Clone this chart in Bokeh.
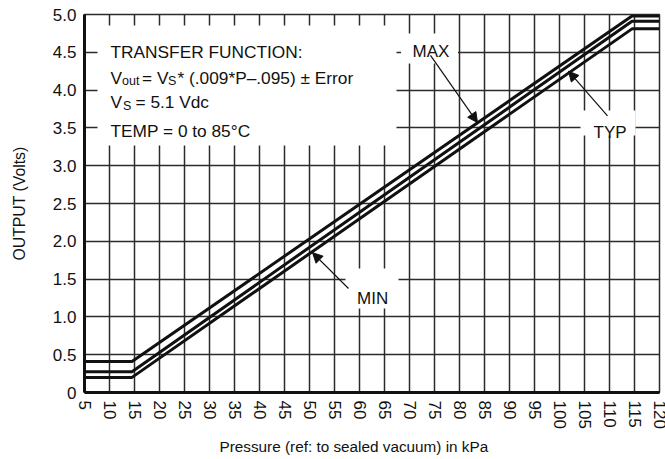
from bokeh.plotting import figure
from bokeh.models import Range1d, FixedTicker, Label, Arrow, NormalHead, Title
from bokeh.embed import file_html
from bokeh.resources import INLINE

# ---- data ----
pressure_ticks = [5, 10, 15, 20, 25, 30, 35, 40, 45, 50, 55, 60, 65, 70, 75, 80,
                  85, 90, 95, 100, 105, 110, 115, 120]
pressure_labels = ["5", "10", "15", "20", "25", "30", "35", "40", "45", "50", "55", "60",
                   "65", "70", "75", "80", "85", "90", "95", "100", "105", "110", "115", "120"]
volt_ticks = [0.0, 0.5, 1.0, 1.5, 2.0, 2.5, 3.0, 3.5, 4.0, 4.5, 5.0]
volt_labels = ["0", "0.5", "1.0", "1.5", "2.0", "2.5", "3.0", "3.5", "4.0", "4.5", "5.0"]

curve_pressure = [5, 14.5, 114.5, 120]
max_output = [0.41, 0.41, 4.98, 4.98]
typ_output = [0.275, 0.275, 4.91, 4.91]
min_output = [0.20, 0.20, 4.81, 4.81]

FONT = "Liberation Sans"
INK = "#111111"
GRID = "#2b2b2b"

p = figure(width=665, height=459, x_range=Range1d(5, 120), y_range=Range1d(0, 5),
           output_backend="svg", toolbar_location=None,
           min_border_left=84, min_border_right=6, min_border_top=14, min_border_bottom=67)
p.background_fill_color = "white"
p.border_fill_color = "white"
p.outline_line_color = GRID
p.outline_line_width = 1.5

p.xaxis.ticker = FixedTicker(ticks=pressure_ticks)
p.xaxis.major_label_overrides = dict(zip(pressure_ticks, pressure_labels))
p.xaxis.major_label_orientation = "vertical"
p.yaxis.ticker = FixedTicker(ticks=volt_ticks)
p.yaxis.major_label_overrides = dict(zip(volt_ticks, volt_labels))
for ax in (p.xaxis[0], p.yaxis[0]):
    ax.axis_line_width = 3
    ax.axis_line_color = INK
    ax.major_tick_in = 0
    ax.major_tick_out = 0
    ax.major_tick_line_color = None
    ax.minor_tick_line_color = None
    ax.major_label_text_font = FONT
    ax.major_label_text_font_size = "17px"
    ax.major_label_text_color = INK
    ax.major_label_standoff = 8

p.yaxis.axis_label = "OUTPUT (Volts)"
p.yaxis.axis_label_text_font = FONT
p.yaxis.axis_label_text_font_size = "15.8px"
p.yaxis.axis_label_text_font_style = "normal"
p.yaxis.axis_label_text_color = INK
p.yaxis.axis_label_standoff = 22

p.xgrid.ticker = FixedTicker(ticks=pressure_ticks)
p.ygrid.ticker = FixedTicker(ticks=volt_ticks)
p.grid.grid_line_color = GRID
p.grid.grid_line_width = 1.5

xt = Title(text="Pressure (ref: to sealed vacuum) in kPa", align="left", offset=135,
           text_font=FONT, text_font_size="15.3px", text_font_style="normal",
           text_color=INK, standoff=8)
p.add_layout(xt, "below")

# white boxes behind annotation texts
p.quad(left=[7.6, 68.3, 104.2, 57.2], right=[67.4, 79.7, 115.2, 67.8],
       top=[4.854, 4.75, 3.73, 1.64], bottom=[3.267, 4.352, 3.40, 1.11],
       fill_color="white", line_color=None)

for ys in (max_output, typ_output, min_output):
    p.line(curve_pressure, ys, line_color=INK, line_width=3)

def lab(x, y, text, size="17.3px"):
    p.add_layout(Label(x=x, y=y, text=text, text_font=FONT, text_font_size=size,
                       text_color=INK, text_align="left", text_baseline="alphabetic"))

lab(10.2, 4.51, "TRANSFER FUNCTION:")
lab(10.2, 4.16, "V")
lab(12.5, 4.114, "out", "12.5px")
lab(16.5, 4.16, "= V")
lab(21.7, 4.114, "S", "12.5px")
lab(23.6, 4.16, "* (.009*P\u2013.095) \u00b1 Error")
lab(10.2, 3.84, "V")
lab(12.7, 3.796, "S", "12.5px")
lab(15.2, 3.84, "= 5.1 Vdc")
lab(10.2, 3.456, "TEMP = 0 to 85\u00b0C")

lab(70.6, 4.51, "MAX", "17px")
lab(106.8, 3.443, "TYP", "17px")
lab(59.5, 1.24, "MIN", "17px")

for (xs, ys_, xe, ye) in [(74.2, 4.46, 83.6, 3.57), (109.6, 3.66, 101.8, 4.25), (57.8, 1.376, 50.6, 1.85)]:
    p.add_layout(Arrow(x_start=xs, y_start=ys_, x_end=xe, y_end=ye, line_color=INK, line_width=1.2,
                       end=NormalHead(size=10, fill_color=INK, line_color=INK, line_width=1)))

open("out.html", "w").write(file_html(p, INLINE))
